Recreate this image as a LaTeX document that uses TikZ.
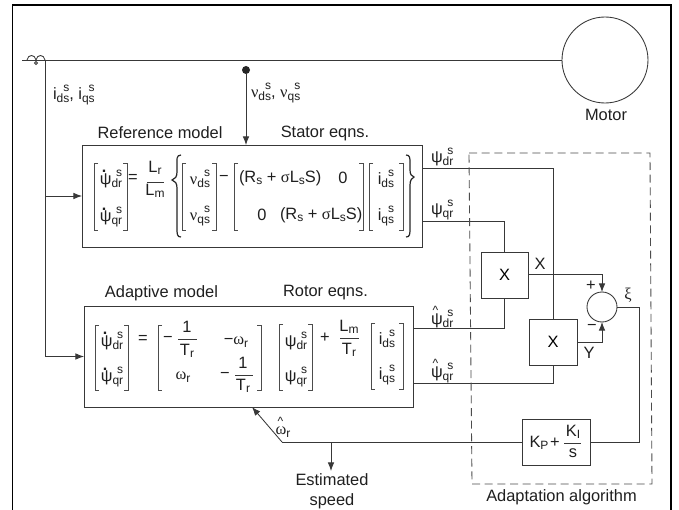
\documentclass[tikz,border=0pt]{standalone}
\usepackage{fontspec}
\usetikzlibrary{arrows.meta}
\setmainfont{Liberation Sans}
\newfontfamily\gkf{Liberation Serif}
\newcommand{\lab}{\fontsize{12.3pt}{14pt}\selectfont}
\newcommand{\sbs}{\fontsize{9pt}{10pt}\selectfont}
% symbol with subscript and right-aligned superscript
\newcommand{\ent}[3]{#1\raisebox{-.3ex}{\sbs #2}\llap{\raisebox{.95ex}{\sbs #3}}}
\newcommand{\sub}[2]{#1\raisebox{-.3ex}{\sbs #2}}
\newcommand{\dpsi}{\rlap{\raisebox{1.35ex}{\hspace{.13em}\fontsize{12pt}{12pt}\selectfont\bfseries .}}ψ}
\newcommand{\hpsi}{\rlap{\raisebox{1.25ex}{\hspace{.1em}\sbs\textasciicircum}}ψ}
\newcommand{\nug}{{\gkf ν}}
\newcommand{\sig}{{\gkf σ}}
\newcommand{\omg}{{\gkf ω}}
\newcommand{\RLS}{(\sub{R}{s} + \sig\sub{L}{s}S)}
\tikzset{
  ink/.style={draw=black!78,line width=0.65pt},
  conn/.style={ink},
  arr/.style={ink,-{Latex[length=6.5pt,width=5pt]}},
  block/.style={ink,fill=none,inner sep=0pt,outer sep=0pt},
  sized/.style 2 args={minimum width=#1*0.75pt,minimum height=#2*0.75pt},
  txt/.style={inner sep=0pt,outer sep=0pt,font=\lab,text=black!88},
  eqn/.style={txt},
  round/.style={ink,circle,inner sep=0pt,outer sep=0pt},
  fbar/.style={draw=black!78,line width=0.6pt},
  brack/.style={draw=black!70,line width=0.55pt},
  curly/.style={draw=black!85,line width=0.9pt},
  frame/.style={draw=black,line width=1.3pt},
  dashbox/.style={draw=black!70,line width=0.65pt,dash pattern=on 6pt off 3.5pt},
}
\newcommand{\lbk}[3]{\draw[brack] (#1+4,#2) -- (#1,#2) -- (#1,#3) -- (#1+4,#3);}
\newcommand{\rbk}[3]{\draw[brack] (#1-4,#2) -- (#1,#2) -- (#1,#3) -- (#1-4,#3);}
\begin{document}
\begin{tikzpicture}[x=0.75pt,y=-0.75pt]
\useasboundingbox (0,0) rectangle (679,510);
\fill[white] (0,0) rectangle (679,510);
% page frame
\draw[frame] (12.5,510) -- (12.5,5) -- (671,5) -- (671,510);

% blocks
\node[round,sized={86}{86}] (motor) at (605,60) {};
\node[block,sized={340}{102}] (ref) at (252,196) {};
\node[block,sized={329}{101}] (adapt) at (248.5,356.5) {};
\node[block,sized={47}{46}] (xa) at (504.5,275) {\lab X};
\node[block,sized={48}{46}] (xb) at (553,342) {\lab X};
\node[block,sized={68}{46}] (pi) at (556,442) {};
\node[round,sized={30}{30}] (sum) at (602,307) {};
\node[circle,fill=black!85,inner sep=0pt,minimum size=6pt] (vdot) at (246,70) {};

% free ends and corners
\coordinate (tap) at (22,60);
\coordinate (sense) at (45,60);
\coordinate (refin) at (45,196);
\coordinate (pdr) at (422,168);
\coordinate (pqr) at (422,221);
\coordinate (hdr) at (413,328);
\coordinate (hqr) at (413,383);
\coordinate (xaout) at (528,274);
\coordinate (xbout) at (577,342);
\coordinate (knee) at (282,442);
\coordinate (wfeed) at (252,407);
\coordinate (branch) at (331,442);
\coordinate (estend) at (331,471);
\coordinate (xicorner) at (639,307);

% connectors
\draw[conn] (tap) -- (motor.west);
\draw[conn] (27,60) .. controls (28,54) and (35,54) .. (36,60) .. controls (37,54) and (44,54) .. (45,60);
\draw[conn] (36,63) circle (1.5);
\draw[arr] (sense) |- (adapt.west);
\draw[arr] (refin) -- (ref.west);
\draw[arr] (vdot) -- (vdot |- ref.north);
\draw[conn] (pdr) -| (xb.north);
\draw[conn] (pqr) -| (xa.north);
\draw[conn] (hdr) -| (xa.south);
\draw[conn] (hqr) -| (xb.south);
\draw[arr] (xaout) -| (sum.north);
\draw[arr] (xbout) -| (sum.south);
\draw[conn] (sum.east) -- (xicorner) |- (pi.east);
\draw[conn] (pi.west) -- (knee);
\draw[arr] (knee) -- (wfeed);
\draw[arr] (branch) -- (estend);

% adaptation box
\draw[dashbox] (469,153) -- (650,153) -- (652,484) -- (472,484) -- cycle;

% labels
\node[txt,anchor=west] (lid) at (53,95) {\ent{i}{ds}{s}, \ent{i}{qs}{s}};
\node[txt,anchor=west] (lvd) at (251,93) {\ent{\nug}{ds}{s}, \ent{\nug}{qs}{s}};
\node[txt] (lref) at (160,133) {Reference model};
\node[txt] (lsta) at (325,133) {Stator eqns.};
\node[txt] (lmot) at (606,115) {Motor};
\node[txt] (lada) at (161.5,293) {Adaptive model};
\node[txt] (lrot) at (325.5,293) {Rotor eqns.};
\node[txt] (lalg) at (561.5,497) {Adaptation algorithm};
\node[txt,align=center] (lest) at (332,491) {Estimated\\[1pt]speed};
\node[txt,anchor=west] (lpdr) at (431,157) {\ent{ψ}{dr}{s}};
\node[txt,anchor=west] (lpqr) at (431,210) {\ent{ψ}{qr}{s}};
\node[txt,anchor=west] (lhdr) at (431,317) {\ent{\hpsi}{dr}{s}};
\node[txt,anchor=west] (lhqr) at (431,371) {\ent{\hpsi}{qr}{s}};
\node[txt] (lx) at (540,264) {X};
\node[txt] (ly) at (589,353) {Y};
\node[txt] (lp) at (591,286) {+};
\node[txt] (lm) at (592,327) {−};
\node[txt] (lxi) at (628,295) {\gkf ξ};
\node[txt] (lom) at (283,427) {\rlap{\raisebox{1.1ex}{\hspace{.12em}\sbs\textasciicircum}}\sub{\omg}{r}};

% reference model equation
\lbk{94}{163}{230} \rbk{127}{163}{230}
\node[eqn] (r1) at (111,179) {\ent{\dpsi}{dr}{s}};
\node[eqn] (r2) at (111,217) {\ent{\dpsi}{qr}{s}};
\node[eqn] (req) at (133,178) {=};
\node[eqn] (rfa) at (155,168) {\sub{L}{r}};
\node[eqn] (rfb) at (155,191) {\sub{L}{m}};
\draw[fbar] (147,182) -- (164,182);
\draw[curly] (181,155) .. controls (176,155) and (177,160) .. (177,165) -- (177,172) .. controls (177,177) and (175,179) .. (172,180) .. controls (175,181) and (177,183) .. (177,188) -- (177,228) .. controls (177,234) and (177,237) .. (181,237);
\lbk{182}{163}{230} \rbk{216}{163}{230}
\node[eqn] (v1) at (200,179) {\ent{\nug}{ds}{s}};
\node[eqn] (v2) at (200,216) {\ent{\nug}{qs}{s}};
\node[eqn] (rmin) at (224,178) {−};
\lbk{234}{163}{230} \rbk{363}{163}{230}
\node[eqn,anchor=west] (m11) at (239,178) {\RLS};
\node[eqn] (m12) at (343,178) {0};
\node[eqn] (m21) at (262,215) {0};
\node[eqn,anchor=west] (m22) at (280,215) {\RLS};
\lbk{369}{163}{230} \rbk{403}{163}{230}
\node[eqn] (i1) at (386,179) {\ent{i}{ds}{s}};
\node[eqn] (i2) at (386,216) {\ent{i}{qs}{s}};
\draw[curly] (406,155) .. controls (410,155) and (410,158) .. (410,163) -- (410,170) .. controls (410,175) and (412,176) .. (414,177) .. controls (412,178) and (410,180) .. (410,185) -- (410,228) .. controls (410,234) and (410,237) .. (406,237);

% adaptive model equation
\lbk{95}{325}{390} \rbk{128}{325}{390}
\node[eqn] (a1) at (112,341) {\ent{\dpsi}{dr}{s}};
\node[eqn] (a2) at (112,377) {\ent{\dpsi}{qr}{s}};
\node[eqn] (aeq) at (143,339) {=};
\lbk{158}{325}{390} \rbk{261}{325}{390}
\node[eqn] (am1) at (168,339) {−};
\node[eqn] (af1) at (187,327) {1};
\node[eqn] (af2) at (187,351) {\sub{T}{r}};
\draw[fbar] (178,339) -- (197,339);
\node[eqn] (am2) at (236,342) {−\sub{\omg}{r}};
\node[eqn] (aw) at (183,377) {\sub{\omg}{r}};
\node[eqn] (am3) at (225,375) {−};
\node[eqn] (ag1) at (243,363) {1};
\node[eqn] (ag2) at (243,386) {\sub{T}{r}};
\draw[fbar] (235,375) -- (253,375);
\lbk{279}{324}{390} \rbk{312}{324}{390}
\node[eqn] (p1) at (296,341) {\ent{ψ}{dr}{s}};
\node[eqn] (p2) at (296,377) {\ent{ψ}{qr}{s}};
\node[eqn] (apl) at (325,338) {+};
\node[eqn] (al1) at (349,327) {\sub{L}{m}};
\node[eqn] (al2) at (349,350) {\sub{T}{r}};
\draw[fbar] (340,338) -- (359,338);
\lbk{371}{323}{389} \rbk{403}{323}{389}
\node[eqn] (j1) at (387,339) {\ent{i}{ds}{s}};
\node[eqn] (j2) at (387,375) {\ent{i}{qs}{s}};

% PI gain
\node[eqn] (kp) at (539,443) {\sub{K}{P}};
\node[eqn] (kpl) at (555,443) {+};
\node[eqn] (ki) at (573,432) {\sub{K}{I}};
\node[eqn] (ks) at (573,453) {s};
\draw[fbar] (564,443) -- (581,443);
\end{tikzpicture}
\end{document}
